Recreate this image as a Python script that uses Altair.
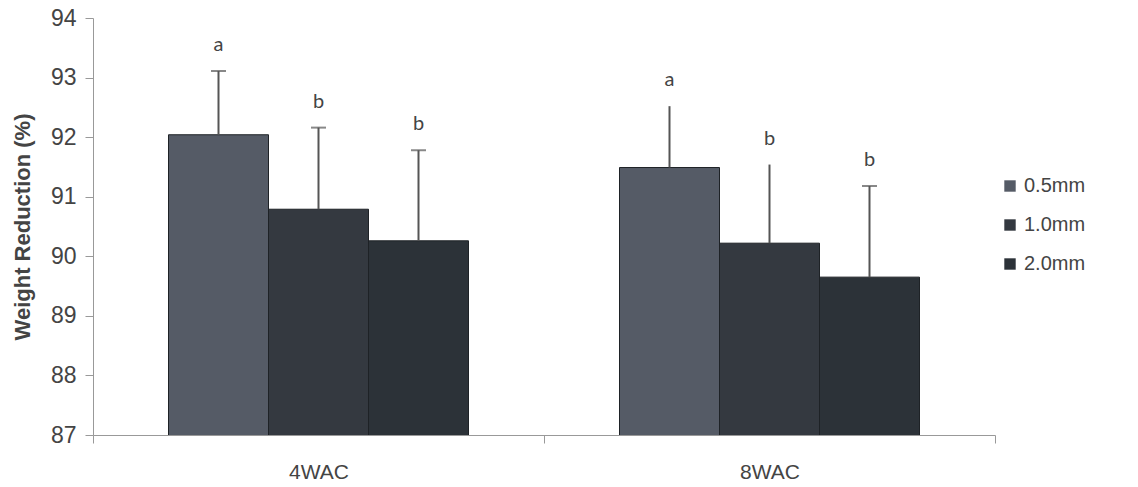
import altair as alt
import pandas as pd

# Weight reduction (%) by sampling time and particle size
groups = ["4WAC", "8WAC"]
sizes = ["0.5mm", "1.0mm", "2.0mm"]
mean_4wac = [92.04, 90.79, 90.26]
mean_8wac = [91.49, 90.22, 89.65]
sd_4wac = [1.07, 1.37, 1.52]
sd_8wac = [1.03, 1.32, 1.53]
letters_4wac = ["a", "b", "b"]
letters_8wac = ["a", "b", "b"]
capped_4wac = [True, True, True]
capped_8wac = [False, False, True]
bar_colors = ["#555b66", "#343940", "#2c3238"]

rows = []
for g, means, sds, lets, caps in zip(
    groups,
    [mean_4wac, mean_8wac],
    [sd_4wac, sd_8wac],
    [letters_4wac, letters_8wac],
    [capped_4wac, capped_8wac],
):
    for s, m, sd, let, cap in zip(sizes, means, sds, lets, caps):
        rows.append(dict(group=g, size=s, mean=m, upper=round(m + sd, 2),
                         letter=let, capped=cap))
df = pd.DataFrame(rows)

FONT = "Liberation Sans"

x = alt.X(
    "group:N", sort=groups,
    scale=alt.Scale(paddingInner=0, paddingOuter=0),
    axis=alt.Axis(title=None, labelAngle=0, tickBand="extent", tickSize=8,
                  grid=False, labelPadding=18, labelFontSize=21,
                  labelFont=FONT, labelColor="#444", domainColor="#999",
                  tickColor="#999"),
)
xo = alt.XOffset("size:N", sort=sizes,
                 scale=alt.Scale(paddingInner=0, paddingOuter=0.755))
yscale = alt.Scale(domain=[87, 94], nice=False, zero=False)

base = alt.Chart(df).encode(x=x, xOffset=xo)

bars = base.mark_bar(stroke="#1e2226", strokeWidth=1, clip=True).encode(
    y=alt.Y("mean:Q", scale=yscale,
            axis=alt.Axis(values=list(range(87, 95)), format="d",
                          title="Weight Reduction (%)",
                          grid=False, tickSize=8, labelPadding=9,
                          labelFontSize=23, labelFont=FONT, labelColor="#444",
                          titleFontSize=22, titleFont=FONT, titleColor="#444",
                          titleFontWeight="bold", titlePadding=16,
                          domainColor="#999", tickColor="#999")),
    color=alt.Color("size:N", sort=sizes,
                    scale=alt.Scale(domain=sizes, range=bar_colors),
                    legend=alt.Legend(title=None, orient="none", legendX=907,
                                      legendY=158, symbolType="square",
                                      symbolSize=130, symbolStrokeWidth=0,
                                      labelFontSize=20, labelFont=FONT,
                                      labelColor="#444", rowPadding=19,
                                      labelOffset=4)),
)

errs = base.mark_rule(color="#555", strokeWidth=2).encode(
    y=alt.Y("mean:Q", scale=yscale), y2="upper:Q"
)

caps = base.mark_tick(color="#555", thickness=2, size=15).encode(
    y=alt.Y("upper:Q", scale=yscale)
).transform_filter("datum.capped")

letters = base.mark_text(dy=-26, fontSize=20, font="Lato", color="#444").encode(
    y=alt.Y("upper:Q", scale=yscale), text="letter:N"
)

chart = (
    alt.layer(bars, errs, caps, letters)
    .properties(width=902, height=417, background="white",
                autosize=alt.AutoSizeParams(type="none"),
                padding={"left": 93, "top": 18, "right": 143, "bottom": 52})
    .configure_view(strokeWidth=0)
    .configure_axis(grid=False)
)

chart.save("out.html", embed_options={"renderer": "svg", "actions": False})
